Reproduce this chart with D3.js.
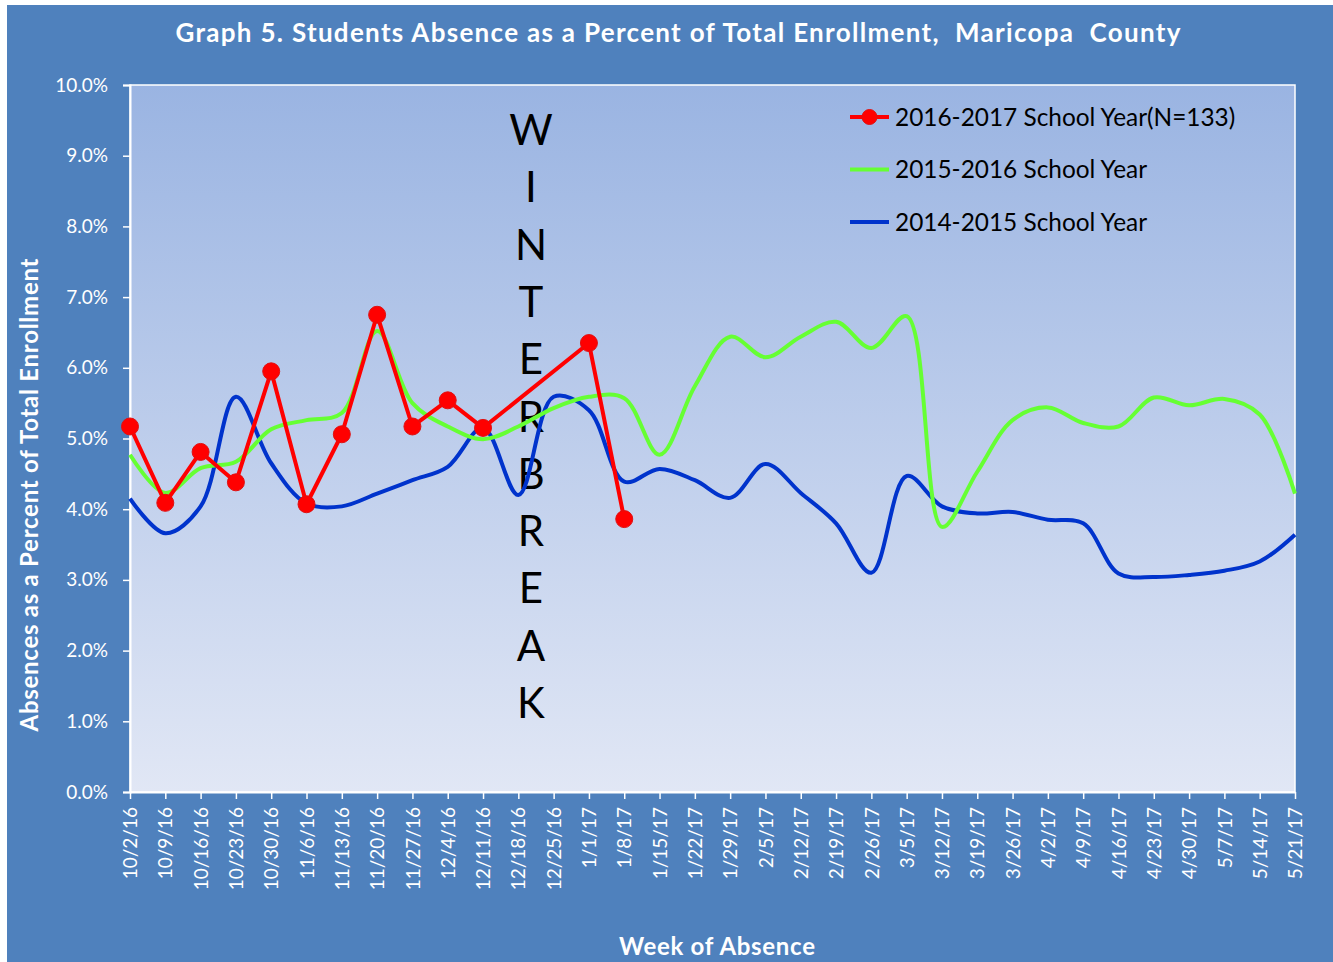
<!DOCTYPE html>
<html>
<head>
<meta charset="utf-8">
<script src="https://cdn.jsdelivr.net/npm/d3@7"></script>
<style>
  html, body { margin: 0; padding: 0; background: #ffffff; }
  svg text { font-family: Lato, "Open Sans", sans-serif; white-space: pre; }
</style>
</head>
<body>
<svg id="chart" width="1333" height="962"></svg>
<script>
// DATA
const weeks = [
  "10/2/16", "10/9/16", "10/16/16", "10/23/16", "10/30/16", "11/6/16", "11/13/16",
  "11/20/16", "11/27/16", "12/4/16", "12/11/16", "12/18/16", "12/25/16", "1/1/17",
  "1/8/17", "1/15/17", "1/22/17", "1/29/17", "2/5/17", "2/12/17", "2/19/17",
  "2/26/17", "3/5/17", "3/12/17", "3/19/17", "3/26/17", "4/2/17", "4/9/17",
  "4/16/17", "4/23/17", "4/30/17", "5/7/17", "5/14/17", "5/21/17",
];

// 2016-2017 (winter break weeks left empty)
const year1617 = [
  5.17, 4.09, 4.81, 4.38, 5.95, 4.07, 5.06, 6.75, 5.17, 5.54, 5.15, null, null, 6.35, 3.86,
];

const year1516 = [
  4.77, 4.23, 4.58, 4.67, 5.13, 5.26, 5.36, 6.52, 5.50, 5.17, 4.99, 5.17, 5.43, 5.59,
  5.57, 4.77, 5.74, 6.44, 6.15, 6.44, 6.65, 6.28, 6.73, 3.75, 4.53, 5.26, 5.44, 5.22,
  5.17, 5.58, 5.47, 5.56, 5.34, 4.22,
];

const year1415 = [
  4.15, 3.66, 4.04, 5.59, 4.65, 4.08, 4.04, 4.22, 4.41, 4.60, 5.15, 4.20, 5.59, 5.40,
  4.39, 4.57, 4.41, 4.16, 4.64, 4.23, 3.80, 3.10, 4.47, 4.04, 3.94, 3.96, 3.85, 3.80,
  3.09, 3.04, 3.07, 3.13, 3.26, 3.64,
];

const seriesNames = [
  "2016-2017 School Year(N=133)",
  "2015-2016 School Year",
  "2014-2015 School Year",
];
const seriesColors = ["#ff0000", "#66ff33", "#0033cc"];

const yTicks = [0, 1, 2, 3, 4, 5, 6, 7, 8, 9, 10];
const breakLetters = ["W", "I", "N", "T", "E", "R", "B", "R", "E", "A", "K"];

// CANVAS SETUP
const width = 1333,
  height = 962;
const plot = { left: 130, right: 1295, top: 85, bottom: 792 };

const svg = d3.select("#chart");

const defs = svg.append("defs");
const grad = defs
  .append("linearGradient")
  .attr("id", "plotGrad")
  .attr("x1", 0)
  .attr("y1", 0)
  .attr("x2", 0)
  .attr("y2", 1);
grad.append("stop").attr("offset", "0%").attr("stop-color", "#9ab4e2");
grad.append("stop").attr("offset", "100%").attr("stop-color", "#e1e7f5");

// outer frame
svg
  .append("rect")
  .attr("x", 7)
  .attr("y", 5)
  .attr("width", width - 7)
  .attr("height", height - 5)
  .attr("fill", "#4f81bd");

// plot area
svg
  .append("rect")
  .attr("x", plot.left)
  .attr("y", plot.top)
  .attr("width", plot.right - plot.left)
  .attr("height", plot.bottom - plot.top)
  .attr("fill", "url(#plotGrad)")
  .attr("stroke", "#ffffff")
  .attr("stroke-width", 1.5);

// SCALES
const xScale = d3.scalePoint().domain(weeks).range([plot.left, plot.right]);

const yScale = d3.scaleLinear().domain([0, 10]).range([plot.bottom, plot.top]);

// AXES
const yAxis = svg
  .append("g")
  .attr("transform", `translate(${plot.left},0)`)
  .call(
    d3
      .axisLeft(yScale)
      .tickValues(yTicks)
      .tickSize(7)
      .tickPadding(15)
      .tickFormat((d) => d.toFixed(1) + "%")
  );
yAxis.select(".domain").attr("stroke", "#ffffff").attr("stroke-width", 2);
yAxis.selectAll(".tick line").attr("stroke", "#ffffff").attr("stroke-width", 1.5);
yAxis
  .selectAll(".tick text")
  .attr("fill", "#ffffff")
  .style("font-size", "19px")
  .style("font-family", "Lato, sans-serif");

const xAxis = svg
  .append("g")
  .attr("transform", `translate(0,${plot.bottom})`)
  .call(d3.axisBottom(xScale).tickSize(7).tickSizeOuter(0));
xAxis.select(".domain").attr("stroke", "#ffffff").attr("stroke-width", 2);
xAxis.selectAll(".tick line").attr("stroke", "#ffffff").attr("stroke-width", 1.5);
xAxis
  .selectAll(".tick text")
  .attr("fill", "#ffffff")
  .style("font-size", "19px")
  .style("font-family", "Lato, sans-serif")
  .attr("text-anchor", "end")
  .attr("transform", "rotate(-90)")
  .attr("x", -15)
  .attr("y", 0)
  .attr("dy", "0.35em");

// TITLES
svg
  .append("text")
  .attr("x", 678)
  .attr("y", 42)
  .attr("text-anchor", "middle")
  .attr("fill", "#ffffff")
  .attr("textLength", 1005)
  .attr("lengthAdjust", "spacing")
  .style("font-size", "26px")
  .style("font-weight", "bold")
  .text("Graph 5. Students Absence as a Percent of Total Enrollment,  Maricopa  County");

svg
  .append("text")
  .attr("transform", "translate(38,495) rotate(-90)")
  .attr("text-anchor", "middle")
  .attr("fill", "#ffffff")
  .attr("textLength", 473)
  .attr("lengthAdjust", "spacing")
  .style("font-size", "24px")
  .style("font-weight", "bold")
  .text("Absences as a Percent of Total Enrollment");

svg
  .append("text")
  .attr("x", 717)
  .attr("y", 955)
  .attr("text-anchor", "middle")
  .attr("fill", "#ffffff")
  .attr("textLength", 196)
  .attr("lengthAdjust", "spacing")
  .style("font-size", "24px")
  .style("font-weight", "bold")
  .text("Week of Absence");

// WINTER BREAK label
svg
  .append("g")
  .selectAll("text")
  .data(breakLetters)
  .join("text")
  .attr("x", 531)
  .attr("y", (d, i) => 145 + i * 57.3)
  .attr("text-anchor", "middle")
  .attr("fill", "#000000")
  .style("font-size", "42px")
  .text((d) => d);

// RENDER LINES
const smoothLine = d3
  .line()
  .x((d) => xScale(d.week))
  .y((d) => yScale(d.value))
  .curve(d3.curveCatmullRom.alpha(0.5));

const straightLine = d3
  .line()
  .x((d) => xScale(d.week))
  .y((d) => yScale(d.value));

const toPoints = (arr) =>
  arr
    .map((v, i) => ({ week: weeks[i], value: v }))
    .filter((d) => d.value !== null);

const pts1415 = toPoints(year1415),
  pts1516 = toPoints(year1516),
  pts1617 = toPoints(year1617);

const fl = svg.append("g").attr("class", "figureLayer");

fl.append("path")
  .datum(pts1415)
  .attr("d", smoothLine)
  .attr("fill", "none")
  .attr("stroke", seriesColors[2])
  .attr("stroke-width", 4)
  .attr("stroke-linejoin", "round");

fl.append("path")
  .datum(pts1516)
  .attr("d", smoothLine)
  .attr("fill", "none")
  .attr("stroke", seriesColors[1])
  .attr("stroke-width", 4)
  .attr("stroke-linejoin", "round");

fl.append("path")
  .datum(pts1617)
  .attr("d", straightLine)
  .attr("fill", "none")
  .attr("stroke", seriesColors[0])
  .attr("stroke-width", 4)
  .attr("stroke-linejoin", "round");

fl.selectAll("circle")
  .data(pts1617)
  .join("circle")
  .attr("cx", (d) => xScale(d.week))
  .attr("cy", (d) => yScale(d.value))
  .attr("r", 8.5)
  .attr("fill", "#ff0000")
  .attr("stroke", "#e01010")
  .attr("stroke-width", 1);

// LEGEND
const legend = svg.append("g").attr("class", "legend");
const lg = legend
  .selectAll("g")
  .data(seriesNames)
  .join("g")
  .attr("transform", (d, i) => `translate(850,${117 + i * 52.5})`);

lg.append("line")
  .attr("x1", 0)
  .attr("x2", 39)
  .attr("stroke", (d, i) => seriesColors[i])
  .attr("stroke-width", 4);

lg.filter((d, i) => i === 0)
  .append("circle")
  .attr("cx", 19.5)
  .attr("r", 7.5)
  .attr("fill", "#ff0000")
  .attr("stroke", "#e01010");

lg.append("text")
  .attr("x", 45)
  .attr("dy", "0.36em")
  .attr("fill", "#000000")
  .style("font-size", "24.4px")
  .text((d) => d);
</script>
</body>
</html>
